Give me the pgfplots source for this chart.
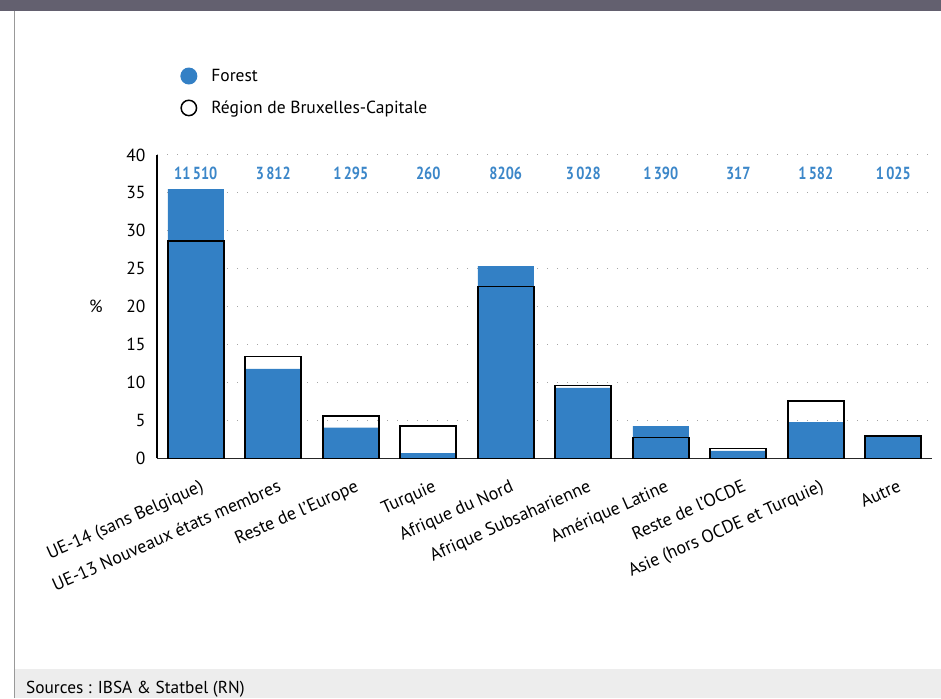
\documentclass[border=0pt]{standalone}
\usepackage{fontspec}
\setmainfont{PT Sans}
\usepackage{pgfplots}
\pgfplotsset{compat=1.18}
\definecolor{barblue}{HTML}{3380C5}
\definecolor{lblblue}{HTML}{3C87C9}
\definecolor{headgray}{HTML}{63606F}
\definecolor{footgray}{HTML}{EDEDED}
\newcommand\f{\fontsize{17.5}{20}\selectfont}
\newcommand\ft{\fontsize{17.5}{21}\selectfont}
\newcommand\fx{\fontsize{18}{21}\selectfont}
\begin{document}
\begin{tikzpicture}[x=1pt,y=1pt]
\useasboundingbox (0,0) rectangle (941,698);
\fill[white] (0,0) rectangle (941,698);
\fill[headgray] (0,687) rectangle (941,698);
\fill[footgray] (14.5,0) rectangle (941,29);
\draw[gray!80, line width=1pt] (14,0) -- (14,687);
\node[anchor=base west, inner sep=0pt, font=\fontsize{17.3}{19}\selectfont] at (26,4.5) {Sources : IBSA \& Statbel (RN)};
\begin{axis}[
  at={(157pt,239.5pt)}, anchor=south west,
  scale only axis, width=775pt, height=303.5pt,
  xmin=-0.5, xmax=9.5, ymin=0, ymax=40,
  ytick={0,5,...,40},
  xtick={0,...,9},
  xticklabels={UE-14 (sans Belgique),{UE-13 Nouveaux \'etats membres},Reste de l'Europe,Turquie,Afrique du Nord,Afrique Subsaharienne,Amérique Latine,Reste de l'OCDE,Asie (hors OCDE et Turquie),Autre},
  axis x line*=bottom, axis y line*=left,
  x axis line style={-, black!85, line width=1.5pt},
  y axis line style={-, black, line width=1.3pt},
  major tick length=0pt,
  ymajorgrids,
  grid style={gray!70, line width=1pt, dash pattern=on 1pt off 9pt},
  /pgf/number format/assume math mode=true,
  tick label style={font=\ft},
  yticklabel style={xshift=-8pt},
  xticklabel style={font=\fx, rotate=24, anchor=north east, inner sep=0pt, xshift=-5pt, yshift=-20pt},
  ylabel={\%}, ylabel style={rotate=-90, font=\ft, at={(axis description cs:-0.079,0.5)}, anchor=center},
  clip=false,
  legend style={draw=none, fill=none, at={(axis description cs:0.026,1.30)}, anchor=north west, font=\f, row sep=14pt, legend cell align=left, inner sep=3pt},
]
\addplot[ybar, bar width=56pt, bar shift=0pt, fill=barblue, draw=none,
  legend image code/.code={\fill[barblue] (8.5pt,0pt) circle (8.5pt); \path[draw=none,fill=none] (0pt,0pt) -- (29pt,0pt);}]
  coordinates {(0,35.5) (1,11.8) (2,4.06) (3,0.72) (4,25.36) (5,9.3) (6,4.28) (7,0.99) (8,4.81) (9,3.0)};
\addlegendentry{Forest}
\addplot[ybar, bar width=56pt, bar shift=0pt, fill=none, draw=black, line width=1.6pt,
  legend image code/.code={\draw[black, line width=1.5pt] (8.5pt,0pt) circle (7.7pt); \path[draw=none,fill=none] (0pt,0pt) -- (29pt,0pt);}]
  coordinates {(0,28.65) (1,13.45) (2,5.63) (3,4.3) (4,22.67) (5,9.6) (6,2.78) (7,1.32) (8,7.6) (9,3.0)};
\addlegendentry{Région de Bruxelles-Capitale}
\foreach \i/\t in {0/11\,510,1/3\,812,2/1\,295,3/260,4/8206,5/3\,028,6/1\,390,7/317,8/1\,582,9/1\,025}{
  \edef\tmp{\noexpand\node[font=\noexpand\f\noexpand\bfseries, text=lblblue, xscale=0.82] at (axis cs:\i,37.6) {\t};}
  \tmp
}
\end{axis}
\end{tikzpicture}
\end{document}
